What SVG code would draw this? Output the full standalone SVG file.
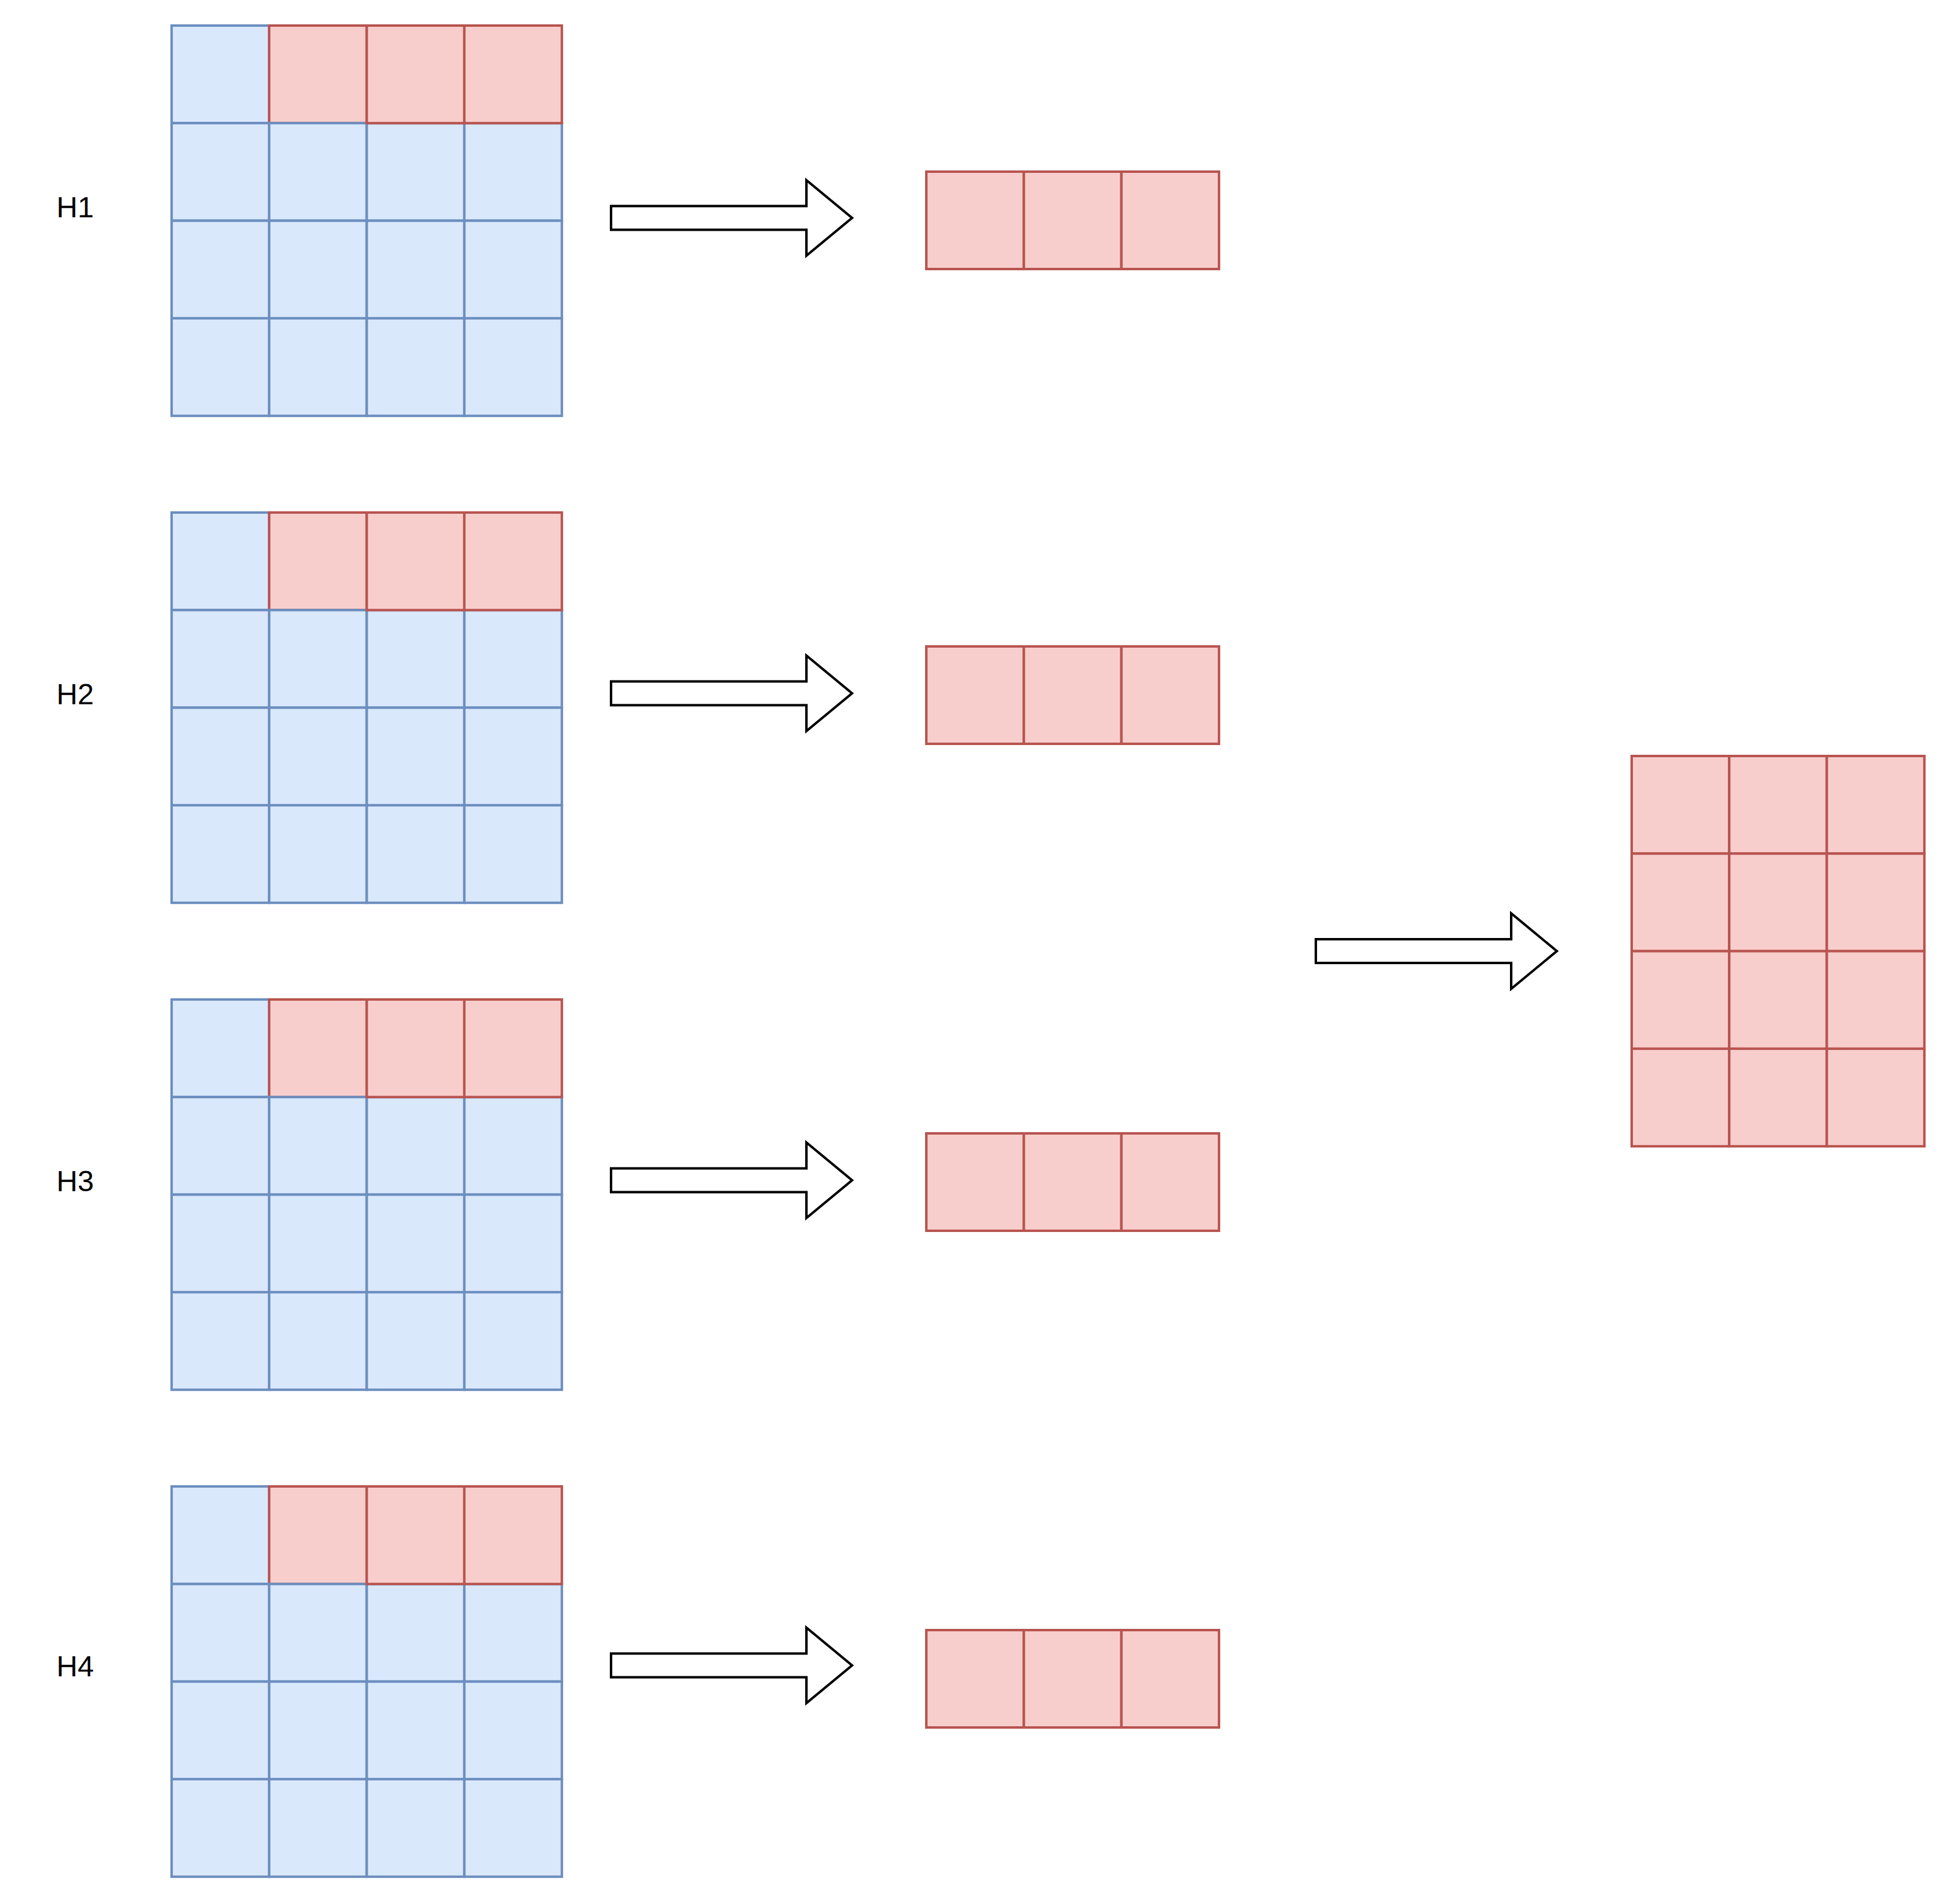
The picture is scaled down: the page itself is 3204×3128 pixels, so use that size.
<svg xmlns="http://www.w3.org/2000/svg" xmlns:xlink="http://www.w3.org/1999/xlink" width="3204" height="3128" viewBox="0 0 3204 3128">
<style>
.b{fill:#dae8fc;stroke:#6c8ebf;stroke-width:4}
.r{fill:#f8cecc;stroke:#b85450;stroke-width:4}
.lbl{font-family:"Liberation Sans",Arial,Helvetica,sans-serif;font-size:48px;fill:#000;text-anchor:middle}
.arr{fill:#fff;stroke:#000;stroke-width:4;stroke-linejoin:miter;stroke-miterlimit:10}
</style>
<defs>
<g id="headgrid">
<rect class="b" x="282" y="42" width="160.3" height="160.3"/>
<rect class="r" x="442.3" y="42" width="160.3" height="160.3"/>
<rect class="b" x="282" y="202.3" width="160.3" height="160.3"/>
<rect class="b" x="442.3" y="202.3" width="160.3" height="160.3"/>
<rect class="b" x="602.6" y="202.3" width="160.3" height="160.3"/>
<rect class="b" x="762.9" y="202.3" width="160.3" height="160.3"/>
<rect class="b" x="282" y="362.6" width="160.3" height="160.3"/>
<rect class="b" x="442.3" y="362.6" width="160.3" height="160.3"/>
<rect class="b" x="602.6" y="362.6" width="160.3" height="160.3"/>
<rect class="b" x="762.9" y="362.6" width="160.3" height="160.3"/>
<rect class="b" x="282" y="522.9" width="160.3" height="160.3"/>
<rect class="b" x="442.3" y="522.9" width="160.3" height="160.3"/>
<rect class="b" x="602.6" y="522.9" width="160.3" height="160.3"/>
<rect class="b" x="762.9" y="522.9" width="160.3" height="160.3"/>
<rect class="r" x="602.6" y="42" width="160.3" height="160.3"/>
<rect class="r" x="762.9" y="42" width="160.3" height="160.3"/>
</g>
<g id="row3">
<rect class="r" x="1522" y="0" width="160.3" height="160"/>
<rect class="r" x="1682.3" y="0" width="160.3" height="160"/>
<rect class="r" x="1842.6" y="0" width="160.3" height="160"/>
</g>
<path id="blockarrow" class="arr" d="M0,-19.5 L321,-19.5 L321,-62 L396,0 L321,62 L321,19.5 L0,19.5 Z"/>
</defs>

<g id="label-H1"><text class="lbl" x="123.5" y="357">H1</text></g>
<g id="label-H2"><text class="lbl" x="123.5" y="1157">H2</text></g>
<g id="label-H3"><text class="lbl" x="123.5" y="1957">H3</text></g>
<g id="label-H4"><text class="lbl" x="123.5" y="2754">H4</text></g>

<g id="grid-H1"><use xlink:href="#headgrid" href="#headgrid"/></g>
<g id="grid-H2"><use xlink:href="#headgrid" href="#headgrid" y="800"/></g>
<g id="grid-H3"><use xlink:href="#headgrid" href="#headgrid" y="1600"/></g>
<g id="grid-H4"><use xlink:href="#headgrid" href="#headgrid" y="2400"/></g>

<g id="row-H1"><use xlink:href="#row3" href="#row3" y="282"/></g>
<g id="row-H2"><use xlink:href="#row3" href="#row3" y="1062"/></g>
<g id="row-H3"><use xlink:href="#row3" href="#row3" y="1862"/></g>
<g id="row-H4"><use xlink:href="#row3" href="#row3" y="2678"/></g>

<g id="result-grid">
<rect class="r" x="2681" y="1242" width="160.3" height="160.3"/>
<rect class="r" x="2841.3" y="1242" width="160.3" height="160.3"/>
<rect class="r" x="3001.6" y="1242" width="160.3" height="160.3"/>
<rect class="r" x="2681" y="1402.3" width="160.3" height="160.3"/>
<rect class="r" x="2841.3" y="1402.3" width="160.3" height="160.3"/>
<rect class="r" x="3001.6" y="1402.3" width="160.3" height="160.3"/>
<rect class="r" x="2681" y="1562.6" width="160.3" height="160.3"/>
<rect class="r" x="2841.3" y="1562.6" width="160.3" height="160.3"/>
<rect class="r" x="3001.6" y="1562.6" width="160.3" height="160.3"/>
<rect class="r" x="2681" y="1722.9" width="160.3" height="160.3"/>
<rect class="r" x="2841.3" y="1722.9" width="160.3" height="160.3"/>
<rect class="r" x="3001.6" y="1722.9" width="160.3" height="160.3"/>
</g>

<g id="connectors">
<use xlink:href="#blockarrow" href="#blockarrow" transform="translate(1004,358)"/>
<use xlink:href="#blockarrow" href="#blockarrow" transform="translate(1004,1139)"/>
<use xlink:href="#blockarrow" href="#blockarrow" transform="translate(1004,1939)"/>
<use xlink:href="#blockarrow" href="#blockarrow" transform="translate(1004,2736)"/>
<use xlink:href="#blockarrow" href="#blockarrow" transform="translate(2162,1562.5)"/>
</g>
</svg>
